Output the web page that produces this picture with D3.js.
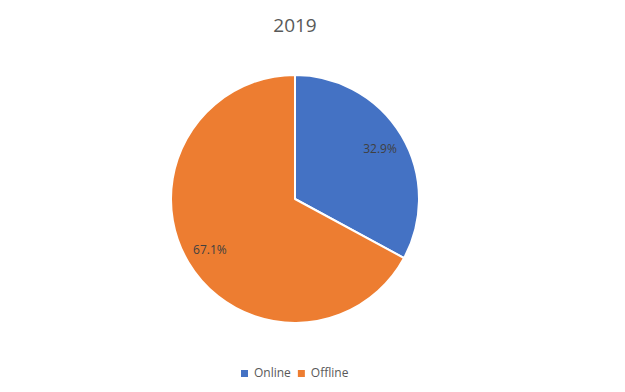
<!DOCTYPE html>
<html>
<head>
<meta charset="utf-8">
<script src="https://cdn.jsdelivr.net/npm/d3@7"></script>
<style>
  body { margin: 0; background: #fff; }
  svg { display: block; font-family: "Open Sans", "Noto Sans", "Liberation Sans", sans-serif; }
</style>
</head>
<body>
<svg id="chart" width="625" height="392"></svg>
<script>
// chart data
var title = '2019';
var categories = ['Online', 'Offline'];
var shares = [32.9, 67.1];
var colors = ['#4472C4', '#ED7D31'];

var width = 625, height = 392;
var cx = 295, cy = 199, radius = 124;
var labelRadius = 99;

var svg = d3.select('#chart');

svg.append('text')
    .attr('x', cx)
    .attr('y', 32)
    .attr('text-anchor', 'middle')
    .attr('font-size', 19)
    .attr('fill', '#595959')
    .text(title);

var pie = d3.pie().sort(null).value(function (d) { return d; });
var arcs = pie(shares);

var arc = d3.arc().innerRadius(0).outerRadius(radius);
var labelArc = d3.arc().innerRadius(labelRadius).outerRadius(labelRadius);

var g = svg.append('g').attr('transform', 'translate(' + cx + ',' + cy + ')');

g.selectAll('path.slice')
    .data(arcs)
    .enter()
    .append('path')
    .attr('class', 'slice')
    .attr('d', arc)
    .attr('fill', function (d, i) { return colors[i]; })
    .attr('stroke', '#fff')
    .attr('stroke-width', 2)
    .attr('stroke-linejoin', 'round');

g.selectAll('text.label')
    .data(arcs)
    .enter()
    .append('text')
    .attr('class', 'label')
    .attr('transform', function (d) { return 'translate(' + labelArc.centroid(d) + ')'; })
    .attr('text-anchor', 'middle')
    .attr('dy', '0.35em')
    .attr('font-size', 12)
    .attr('fill', '#404040')
    .text(function (d) { return d.data.toFixed(1) + '%'; });

// legend
var legend = svg.append('g').attr('transform', 'translate(0,373)');
var lx = 241;
categories.forEach(function (c, i) {
    legend.append('rect')
        .attr('x', lx)
        .attr('y', -3)
        .attr('width', 7)
        .attr('height', 7)
        .attr('fill', colors[i]);
    var t = legend.append('text')
        .attr('x', lx + 13)
        .attr('y', 0)
        .attr('dy', '0.35em')
        .attr('font-size', 12)
        .attr('fill', '#595959')
        .text(c);
    lx += 13 + t.node().getComputedTextLength() + 7;
});
</script>
</body>
</html>
